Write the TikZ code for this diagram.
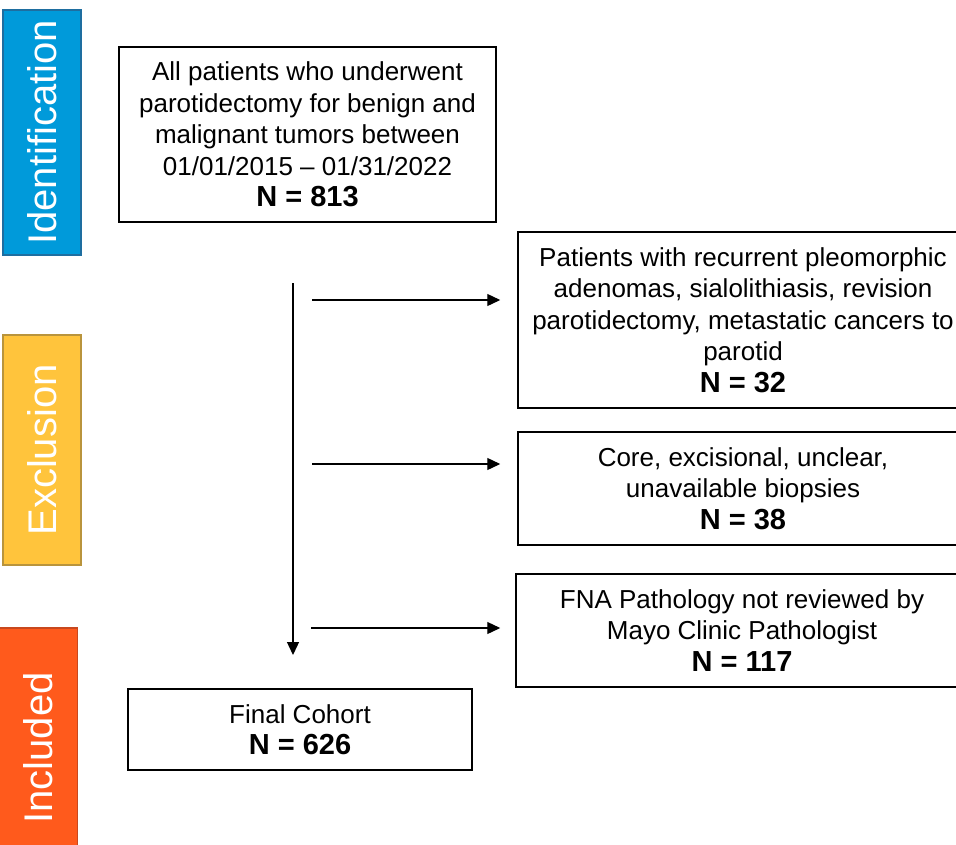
\documentclass[tikz,border=0pt]{standalone}
\usepackage{fontspec}
\setmainfont{Liberation Sans}
\usetikzlibrary{positioning}
\usetikzlibrary{arrows.meta}
\definecolor{identc}{RGB}{0,154,218}
\definecolor{identedge}{RGB}{30,110,160}
\definecolor{exclc}{RGB}{255,196,60}
\definecolor{excledge}{RGB}{185,148,60}
\definecolor{inclc}{RGB}{255,90,28}
\definecolor{incledge}{RGB}{200,72,30}
\newcommand{\ncount}[1]{{\fontsize{29}{33}\selectfont\bfseries N = #1}}

\begin{document}
\begin{tikzpicture}[x=1pt,y=-1pt,
  stagebar/.style={draw, line width=1.5pt, shape=rectangle, rotate=90, inner sep=0pt,
    minimum height=78pt, text=white, font=\fontsize{40}{48}\selectfont},
  stepbox/.style={draw, line width=1.5pt, shape=rectangle, align=center, inner sep=0pt,
    font=\fontsize{26}{31.5}\selectfont},
  flowline/.style={line width=1.3pt, -{Triangle[length=13pt,width=12pt]}}]
\useasboundingbox (0,0) rectangle (956,844);

\node[stagebar, fill=identc, draw=identedge, minimum width=245pt]
(bar0) at (42,132.5) {Identification};
\node[stagebar, fill=exclc, draw=excledge, minimum width=230pt]
(bar1) at (42,450) {Exclusion};
\node[stagebar, fill=inclc, draw=incledge, minimum width=240pt]
(bar2) at (38.5,748) {Included};

\node[stepbox, minimum width=377pt, minimum height=175pt]
(box0) at (307.5,134.5) {All patients who underwent\\parotidectomy for benign and\\malignant tumors between\\01/01/2015 \textendash{} 01/31/2022\\\ncount{813}};
\node[stepbox, minimum width=450pt, minimum height=176pt]
(box1) at (743,320) {Patients with recurrent pleomorphic\\adenomas, sialolithiasis, revision\\parotidectomy, metastatic cancers to\\parotid\\\ncount{32}};
\node[stepbox, minimum width=450pt, minimum height=113pt]
(box2) at (743,488.5) {Core, excisional, unclear,\\unavailable biopsies\\\ncount{38}};
\node[stepbox, minimum width=452pt, minimum height=113pt]
(box3) at (742,630.5) {FNA Pathology not reviewed by\\Mayo Clinic Pathologist\\\ncount{117}};
\node[stepbox, minimum width=344pt, minimum height=81pt]
(box4) at (300,729.5) {Final Cohort\\\ncount{626}};

\coordinate (spinetop) at (293,283);
\coordinate (spineend) at (293,655);
\coordinate (tap1) at (312,300);
\coordinate (tap2) at (312,464);
\coordinate (tap3) at (311,628);

\draw[flowline] (spinetop) -- (spineend);
\draw[flowline, shorten >=17pt] (tap1) -- (tap1 -| box1.west);
\draw[flowline, shorten >=17pt] (tap2) -- (tap2 -| box2.west);
\draw[flowline, shorten >=15pt] (tap3) -- (tap3 -| box3.west);

\end{tikzpicture}
\end{document}
